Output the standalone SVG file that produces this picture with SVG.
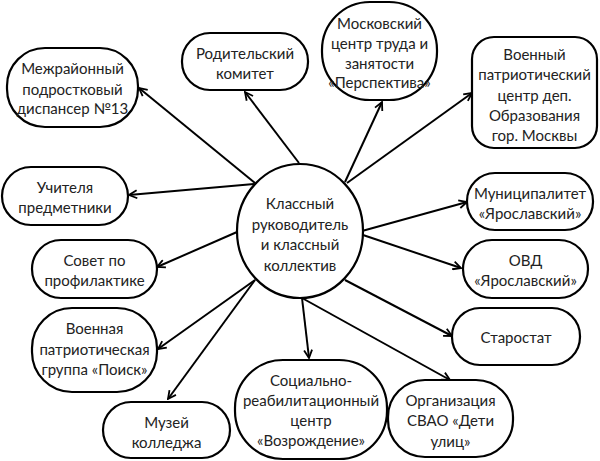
<svg xmlns="http://www.w3.org/2000/svg" width="600" height="461" viewBox="0 0 600 461">
<style>
.n{fill:#fff;stroke:#000;stroke-width:2.2}
.t{font-family:Lato,"Open Sans","Liberation Sans",sans-serif;font-size:15px;fill:#222;text-anchor:middle;dominant-baseline:central}
.c{stroke:#000;stroke-width:2;fill:none;marker-end:url(#ah)}
</style>
<defs>
<marker id="ah" viewBox="0 0 10 10" refX="9" refY="5" markerWidth="10" markerHeight="10" markerUnits="userSpaceOnUse" orient="auto">
<path d="M1,1 L9,5 L1,9" fill="none" stroke="#000" stroke-width="1.8"/>
</marker>
</defs>
<rect width="600" height="461" fill="#fff"/>
<g id="connectors">
<line class="c" x1="255" y1="183" x2="139" y2="88"/>
<line class="c" x1="254" y1="184" x2="129" y2="195"/>
<line class="c" x1="299" y1="163" x2="245" y2="92"/>
<line class="c" x1="345" y1="182" x2="382" y2="102"/>
<line class="c" x1="347" y1="183" x2="472" y2="93"/>
<line class="c" x1="362" y1="231" x2="467" y2="202"/>
<line class="c" x1="363" y1="235" x2="461" y2="268"/>
<line class="c" x1="345" y1="280" x2="452" y2="336"/>
<line class="c" x1="302" y1="298" x2="450" y2="380"/>
<line class="c" x1="302" y1="298" x2="309" y2="358"/>
<line class="c" x1="255" y1="280" x2="168" y2="399"/>
<line class="c" x1="255" y1="280" x2="158" y2="349"/>
<line class="c" x1="237" y1="232" x2="157" y2="267"/>
</g>
<g id="center">
<ellipse class="n" cx="300" cy="231" rx="63" ry="67"/>
<text class="t" x="300" y="203">Классный</text>
<text class="t" x="300" y="224">руководитель</text>
<text class="t" x="300" y="244">и классный</text>
<text class="t" x="300" y="265">коллектив</text>
</g>
<g id="n1">
<rect class="n" x="7" y="48" width="131" height="79" rx="38"/>
<text class="t" x="72.5" y="68">Межрайонный</text>
<text class="t" x="72.5" y="89">подростковый</text>
<text class="t" x="72.5" y="108">диспансер №13</text>
</g>
<g id="n2">
<rect class="n" x="182" y="33" width="126" height="57" rx="28"/>
<text class="t" x="245" y="53">Родительский</text>
<text class="t" x="245" y="73">комитет</text>
</g>
<g id="n3">
<rect class="n" x="322" y="2" width="115" height="98" rx="48"/>
<text class="t" x="379.5" y="23">Московский</text>
<text class="t" x="379.5" y="43">центр труда и</text>
<text class="t" x="379.5" y="63">занятости</text>
<text class="t" x="379.5" y="82">«Перспектива»</text>
</g>
<g id="n4">
<rect class="n" x="472" y="37" width="125" height="111" rx="22"/>
<text class="t" x="534.5" y="54">Военный</text>
<text class="t" x="534.5" y="74">патриотический</text>
<text class="t" x="534.5" y="95">центр деп.</text>
<text class="t" x="534.5" y="115">Образования</text>
<text class="t" x="534.5" y="135">гор. Москвы</text>
</g>
<g id="n5">
<rect class="n" x="2" y="167" width="126" height="58" rx="29"/>
<text class="t" x="65" y="187">Учителя</text>
<text class="t" x="65" y="207">предметники</text>
</g>
<g id="n6">
<rect class="n" x="32" y="240" width="125" height="58" rx="29"/>
<text class="t" x="94.5" y="260">Совет по</text>
<text class="t" x="94.5" y="280">профилактике</text>
</g>
<g id="n7">
<rect class="n" x="32" y="308" width="125" height="84" rx="40"/>
<text class="t" x="94.5" y="328">Военная</text>
<text class="t" x="94.5" y="349">патриотическая</text>
<text class="t" x="94.5" y="369">группа «Поиск»</text>
</g>
<g id="n8">
<rect class="n" x="103" y="402" width="127" height="56" rx="28"/>
<text class="t" x="166.5" y="422">Музей</text>
<text class="t" x="166.5" y="442">колледжа</text>
</g>
<g id="n9">
<rect class="n" x="235" y="360" width="152" height="99" rx="48"/>
<text class="t" x="311" y="380">Социально-</text>
<text class="t" x="311" y="400">реабилитационный</text>
<text class="t" x="311" y="420">центр</text>
<text class="t" x="311" y="440">«Возрождение»</text>
</g>
<g id="n10">
<rect class="n" x="388" y="380" width="125" height="77" rx="37"/>
<text class="t" x="450.5" y="400">Организация</text>
<text class="t" x="450.5" y="420">СВАО «Дети</text>
<text class="t" x="450.5" y="441">улиц»</text>
</g>
<g id="n11">
<rect class="n" x="452" y="308" width="128" height="57" rx="28"/>
<text class="t" x="516" y="337">Старостат</text>
</g>
<g id="n12">
<rect class="n" x="463" y="240" width="125" height="58" rx="29"/>
<text class="t" x="525.5" y="260">ОВД</text>
<text class="t" x="525.5" y="280">«Ярославский»</text>
</g>
<g id="n13">
<rect class="n" x="467" y="173" width="126" height="57" rx="28"/>
<text class="t" x="530" y="193">Муниципалитет</text>
<text class="t" x="530" y="213">«Ярославский»</text>
</g>
</svg>
